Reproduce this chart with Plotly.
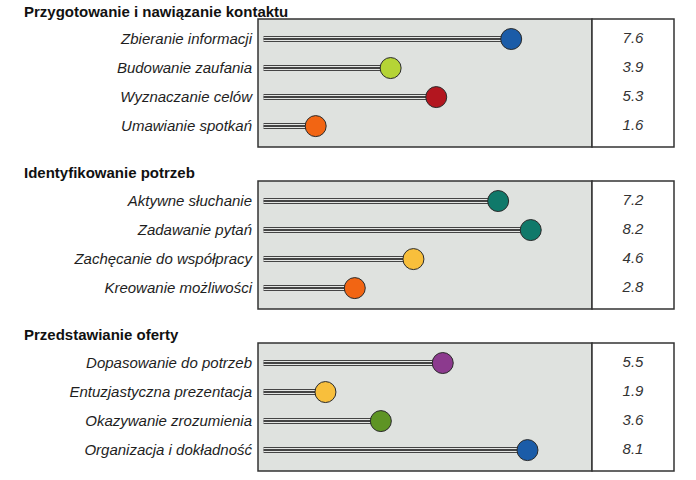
import plotly.graph_objects as go

# data
section_titles = [
    "Przygotowanie i nawiązanie kontaktu",
    "Identyfikowanie potrzeb",
    "Przedstawianie oferty",
]
section_labels = [
    ["Zbieranie informacji", "Budowanie zaufania", "Wyznaczanie celów", "Umawianie spotkań"],
    ["Aktywne słuchanie", "Zadawanie pytań", "Zachęcanie do współpracy", "Kreowanie możliwości"],
    ["Dopasowanie do potrzeb", "Entuzjastyczna prezentacja", "Okazywanie zrozumienia", "Organizacja i dokładność"],
]
section_values = [
    [7.6, 3.9, 5.3, 1.6],
    [7.2, 8.2, 4.6, 2.8],
    [5.5, 1.9, 3.6, 8.1],
]
section_colors = [
    ["#1b5ca8", "#b5d436", "#b3161f", "#f26513"],
    ["#10796a", "#10796a", "#f8bf3c", "#f26513"],
    ["#8c3a8e", "#f8bf3c", "#5e9424", "#1b5ca8"],
]

W, H = 696, 480
FONT = "Arial, Liberation Sans, sans-serif"

# pixel layout of each panel (top, bottom) and header centre
panel_px = [(19, 147), (181, 309), (343, 471)]
header_px = [11, 172, 334]
plot_x = (258, 592)
value_x = (592, 674)


def ax(letter, k):
    # trace-side axis id: 'x', 'x2', ...
    return letter if k == 1 else f"{letter}{k}"


def ax_key(letter, k):
    return f"{letter}axis" if k == 1 else f"{letter}axis{k}"


fig = go.Figure()
layout = dict(
    width=W, height=H,
    margin=dict(l=0, r=0, t=0, b=0),
    paper_bgcolor="white", plot_bgcolor="rgba(0,0,0,0)",
    showlegend=False,
    shapes=[], annotations=[],
)

for i in range(3):
    xa = ax("x", 2 * i + 1)
    xv = ax("x", 2 * i + 2)
    ya = ax("y", i + 1)
    labels = section_labels[i]
    values = section_values[i]

    # triple-line stems
    for width, color in [(6, "#444444"), (4, "#e4e6e4"), (2, "#444444")]:
        for lab, v in zip(labels, values):
            fig.add_trace(go.Scatter(
                x=[0, v], y=[lab, lab], mode="lines",
                line=dict(color=color, width=width),
                xaxis=xa, yaxis=ya, hoverinfo="skip"))

    fig.add_trace(go.Scatter(
        x=values, y=labels, mode="markers",
        marker=dict(size=21, color=section_colors[i],
                    line=dict(color="#2a2a2a", width=1)),
        xaxis=xa, yaxis=ya))

    fig.add_trace(go.Scatter(
        x=[0] * len(values), y=labels, mode="text",
        text=[f"{v:.1f}" for v in values],
        textfont=dict(family=FONT, size=15, color="#333333", style="italic"),
        xaxis=xv, yaxis=ya, hoverinfo="skip"))

    top, bottom = panel_px[i]
    ydom = [1 - bottom / H, 1 - top / H]
    n = len(labels)
    pad_top = 0.69
    pad_bot = 0.72

    layout[ax_key("x", 2 * i + 1)] = dict(
        domain=[plot_x[0] / W, plot_x[1] / W], anchor=ya,
        range=[-0.17, 10.08], visible=False, fixedrange=True)
    layout[ax_key("x", 2 * i + 2)] = dict(
        domain=[value_x[0] / W, value_x[1] / W], anchor=ya,
        range=[-1, 1], visible=False, fixedrange=True)
    layout[ax_key("y", i + 1)] = dict(
        domain=ydom, anchor=xa,
        type="category", categoryorder="array", categoryarray=labels,
        range=[n - 1 + pad_bot, -pad_top],
        showgrid=False, zeroline=False, showline=False, ticks="",
        ticklabelstandoff=5, fixedrange=True,
        tickfont=dict(family=FONT, size=15, color="#1e1e1e", style="italic"))

    # panel boxes
    layout["shapes"].append(dict(
        type="rect", xref=f"{xa} domain", yref=f"{ya} domain",
        x0=0, x1=1, y0=0, y1=1, layer="below",
        fillcolor="#dfe2df", line=dict(color="#333333", width=1.5)))
    layout["shapes"].append(dict(
        type="rect", xref=f"{xv} domain", yref=f"{ya} domain",
        x0=0, x1=1, y0=0, y1=1, layer="below",
        fillcolor="white", line=dict(color="#333333", width=1.5)))

    layout["annotations"].append(dict(
        text=f"<b>{section_titles[i]}</b>", xref="paper", yref="paper",
        x=22 / W, y=1 - header_px[i] / H, xanchor="left", yanchor="middle",
        showarrow=False, font=dict(family=FONT, size=15, color="#111111")))

fig.update_layout(**layout)
fig.write_html("out.html", config={"displayModeBar": False},
               post_script="document.body.style.margin='0';")
